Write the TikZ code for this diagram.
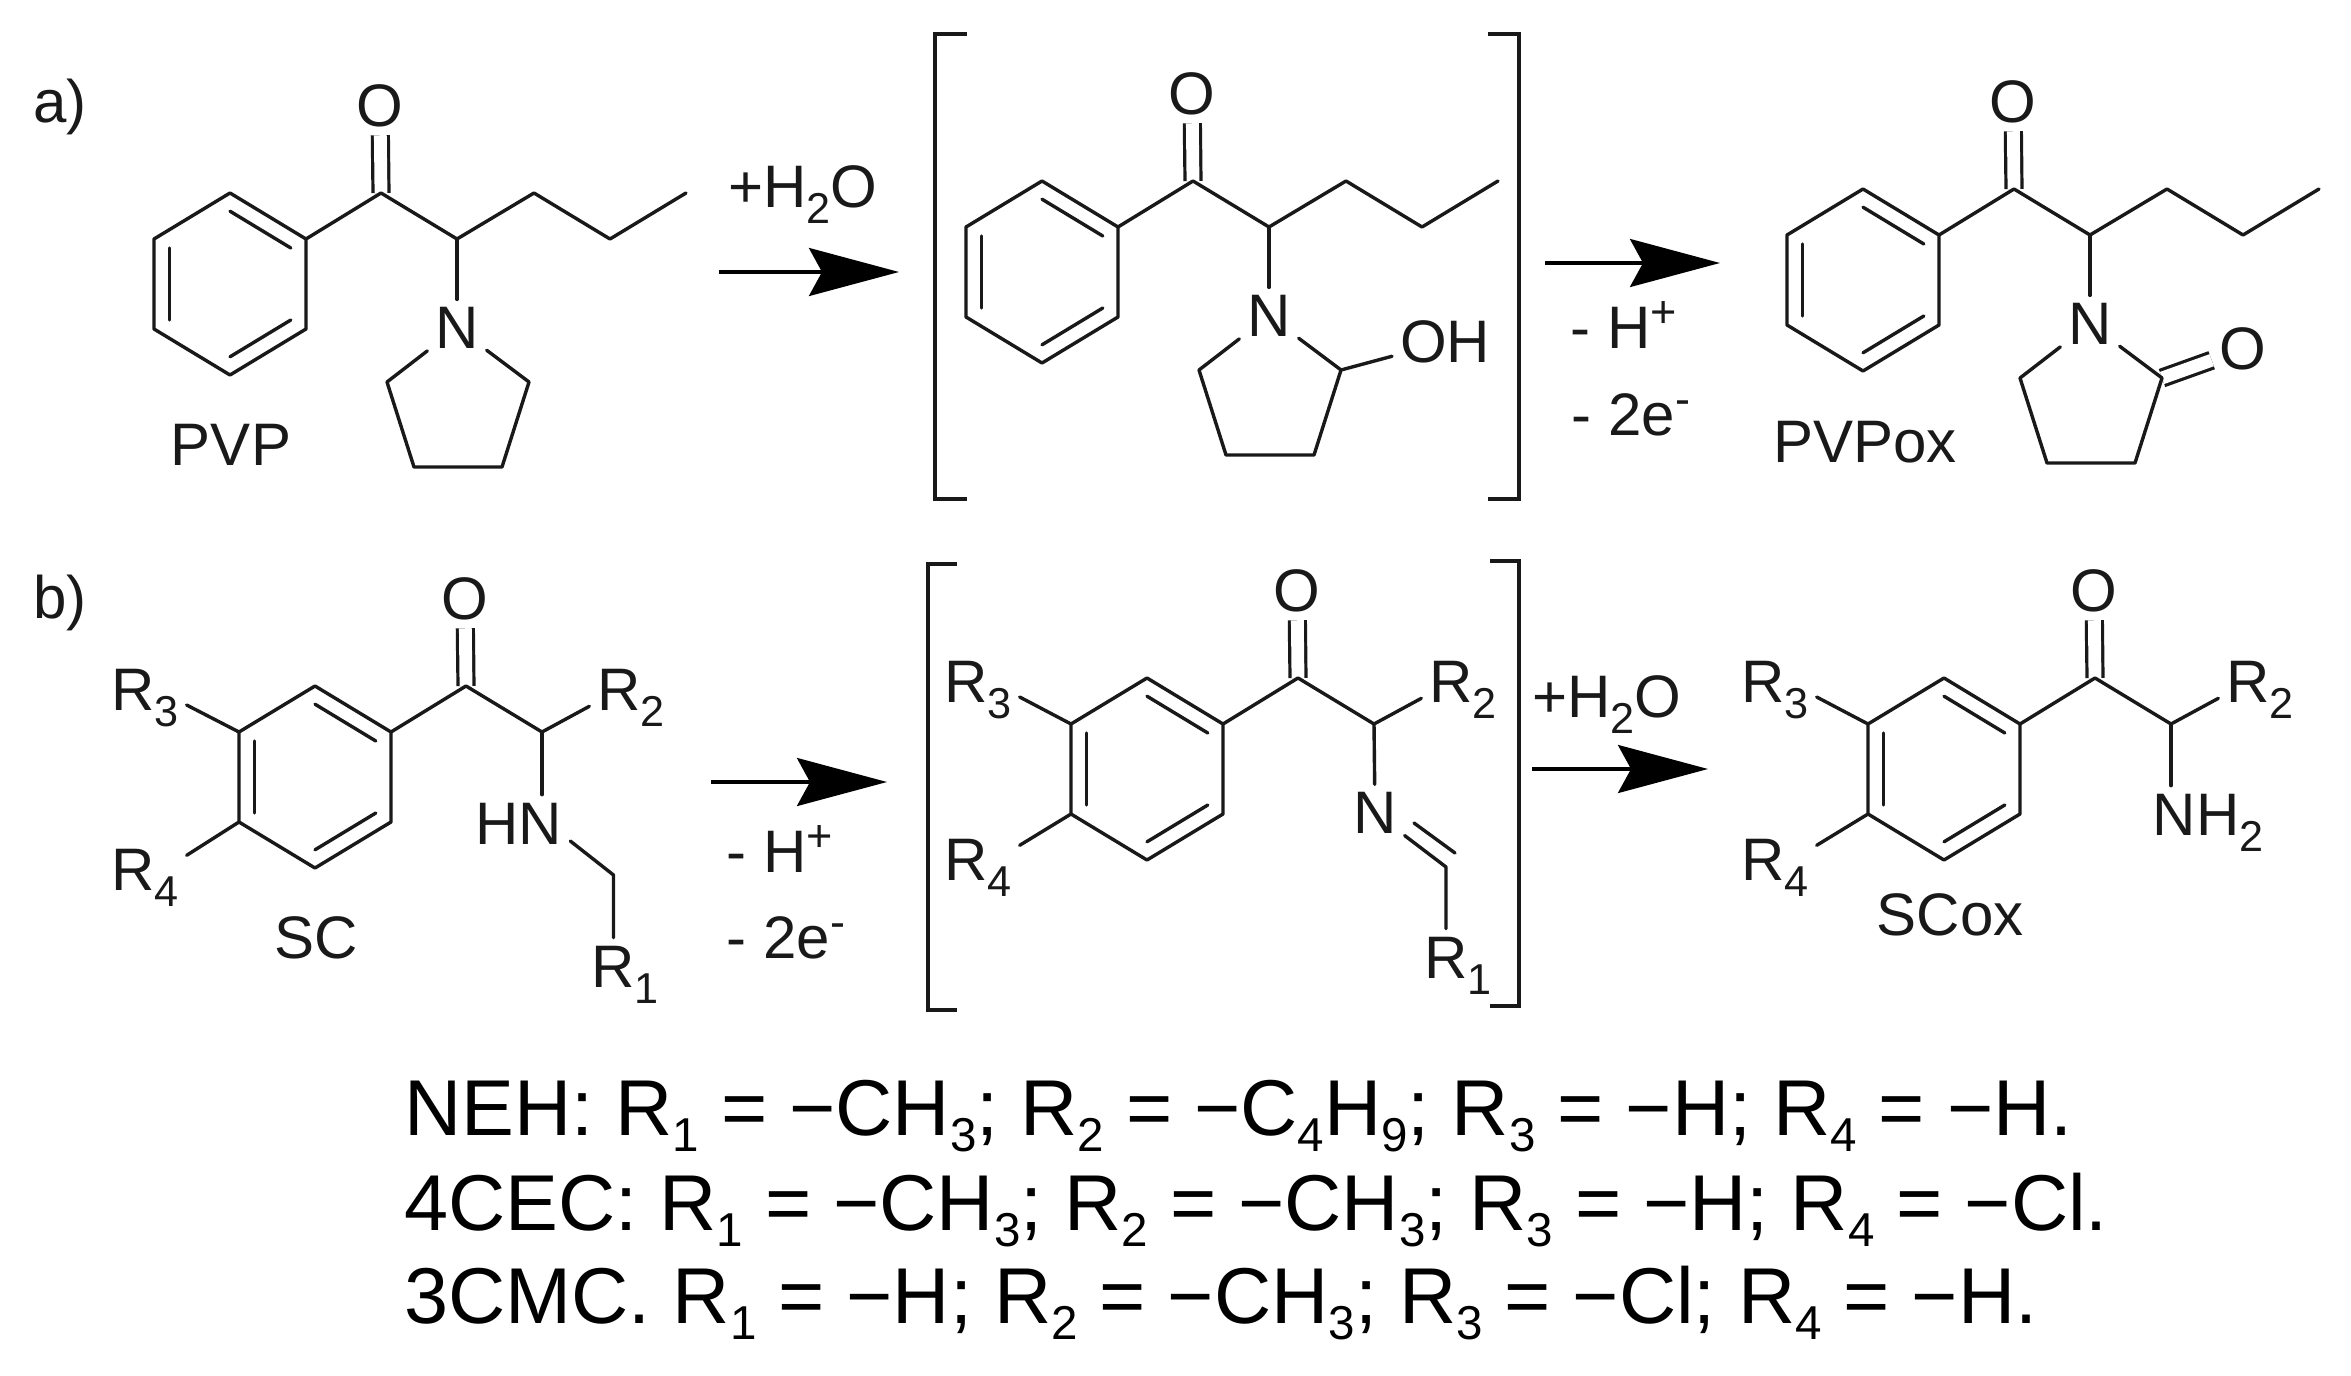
\documentclass[tikz,border=0pt]{standalone}
\usepackage{fontspec}
\setmainfont{Liberation Sans}
\usetikzlibrary{arrows.meta, calc}
\tikzstyle{bond} = [line width=1.7pt, line cap=round, line join=round, draw=black!90]
\tikzstyle{dbond} = [line width=1.6pt, draw=black!90, double=white, double distance=6.4pt]
\tikzstyle{atom} = [inner sep=4pt, outer sep=0pt, font=\fontsize{30}{36}\selectfont, text=black!90]
\tikzstyle{lbl} = [atom, anchor=base]
\tikzstyle{eqline} = [inner sep=0pt, anchor=base west, font=\fontsize{39.6}{48}\selectfont, text=black]
\tikzstyle{arrow} = [line width=1.7pt, -{Stealth[length=45pt, width=24pt, inset=6.5pt]}, draw=black]
\tikzstyle{bracket} = [line width=1.6pt, draw=black!90]
\newcommand{\lowtxt}[1]{\raisebox{-.21em}{\scalebox{.6}{#1}}}
\newcommand{\lowmol}[1]{\raisebox{-.27em}{\scalebox{.72}{#1}}}
\newcommand{\hightxt}[1]{\raisebox{.34em}{\scalebox{.75}{#1}}}
% ring with the carbonyl and the CH next to it
\newcommand{\ketoring}[3]{%
  \coordinate (#1m) at (#2,#3);
  \coordinate (#1a) at (#2,#3-91);
  \coordinate (#1b) at (#2+76,#3-45);
  \coordinate (#1c) at (#2+76,#3+45);
  \coordinate (#1d) at (#2,#3+91);
  \coordinate (#1e) at (#2-76,#3+45);
  \coordinate (#1f) at (#2-76,#3-45);
  \coordinate (#1C) at (#2+151,#3-91);
  \coordinate (#1H) at (#2+227,#3-45);
  \node (#1O) [atom] at (#2+150,#3-178) {O};
  \draw [dbond] (#1C) -- (#1O);
  \draw [bond] (#1a) -- (#1b) -- (#1c) -- (#1d) -- (#1e) -- (#1f) -- cycle;
  \draw [bond] ($(#1a)!0.2!(#1m)$) -- ($(#1b)!0.2!(#1m)$);
  \draw [bond] ($(#1c)!0.2!(#1m)$) -- ($(#1d)!0.2!(#1m)$);
  \draw [bond] ($(#1e)!0.2!(#1m)$) -- ($(#1f)!0.2!(#1m)$);
  \draw [bond] (#1b) -- (#1C) -- (#1H);
}
% propyl tail and the five ring on N
\newcommand{\pyrrolidine}[1]{%
  \coordinate (#1p) at ([shift={(304,-91)}]#1m);
  \coordinate (#1q) at ([shift={(380,-45)}]#1m);
  \coordinate (#1s) at ([shift={(456,-91)}]#1m);
  \coordinate (#1t) at ([shift={(157,98)}]#1m);
  \coordinate (#1u) at ([shift={(184,183)}]#1m);
  \coordinate (#1v) at ([shift={(272,183)}]#1m);
  \coordinate (#1w) at ([shift={(299,98)}]#1m);
  \node (#1N) [atom] at ([shift={(227,44)}]#1m) {N};
  \draw [bond] (#1H) -- (#1p) -- (#1q) -- (#1s);
  \draw [bond] (#1H) -- (#1N);
  \draw [bond] (#1N) -- (#1t) -- (#1u) -- (#1v) -- (#1w) -- (#1N);
}

\begin{document}
\begin{tikzpicture}[x=0.5pt, y=-0.5pt]
\useasboundingbox (0,0) rectangle (2351,1376);

%PVP
\ketoring{pvp}{230}{284}
\pyrrolidine{pvp}
%hydroxy intermediate
\ketoring{hyd}{1042}{272}
\pyrrolidine{hyd}
\node (hydOH) [atom] at (1445,342) {OH};
\draw [bond] (hydw) -- (hydOH);
%PVPox
\ketoring{pox}{1863}{280}
\coordinate (poxw) at ([shift={(299,98)}]poxm);
\node (poxO2) [atom] at (2243,349) {O};
\draw [dbond] (poxw) -- (poxO2);
\pyrrolidine{pox}

%SC
\ketoring{sc}{315}{777}
\node (scR1) [lbl] at (625,987) {R\lowmol{1}};
\node (scR2) [lbl] at (631,710) {R\lowmol{2}};
\node (scR3) [lbl] at (145,710) {R\lowmol{3}};
\node (scR4) [lbl] at (145,890) {R\lowmol{4}};
\node (scHN) [lbl] at (519,844) {HN};
\coordinate (scCH) at (613.5,875);
\draw [bond] (scH) -- (scR2.192);
\draw [bond] (scf) -- (scR3.-10);
\draw [bond] (sce) -- (scR4.28);
\draw [bond] (scH) -- (scH |- scHN.north);
\draw [bond] (scHN.-19) -- (scCH) -- (scCH |- scR1.north);
%imine intermediate
\ketoring{imi}{1147}{769}
\node (imiR1) [lbl] at (1458,978) {R\lowmol{1}};
\node (imiR2) [lbl] at (1463,702) {R\lowmol{2}};
\node (imiR3) [lbl] at (978,702) {R\lowmol{3}};
\node (imiR4) [lbl] at (978,880) {R\lowmol{4}};
\node (imiN) [atom] at (1375,813) {N};
\coordinate (imiCH) at (1446,867);
\coordinate (imiDa) at (1414,823);
\coordinate (imiDb) at (1455,853);
\draw [bond] (imiH) -- (imiR2.192);
\draw [bond] (imif) -- (imiR3.-10);
\draw [bond] (imie) -- (imiR4.28);
\draw [bond] (imiH) -- (imiN);
\draw [bond] (imiN) -- (imiCH) -- (imiCH |- imiR1.north);
\draw [bond] (imiDa) -- (imiDb);
%SCox
\ketoring{sox}{1944}{769}
\node (soxR2) [lbl] at (2260,702) {R\lowmol{2}};
\node (soxR3) [lbl] at (1775,702) {R\lowmol{3}};
\node (soxR4) [lbl] at (1775,880) {R\lowmol{4}};
\node (soxNH) [lbl] at (2208,835) {NH\lowmol{2}};
\draw [bond] (soxH) -- (soxR2.192);
\draw [bond] (soxf) -- (soxR3.-10);
\draw [bond] (soxe) -- (soxR4.28);
\draw [bond] (soxH) -- (soxH |- soxNH.north);

%Brackets
\draw [bracket] (967,34) -- (935,34) -- (935,499) -- (967,499);
\draw [bracket] (1488,34) -- (1519,34) -- (1519,499) -- (1488,499);
\draw [bracket] (957,564) -- (928,564) -- (928,1010) -- (957,1010);
\draw [bracket] (1490,561) -- (1519,561) -- (1519,1006) -- (1490,1006);

%arrows
\coordinate (arAs) at (719,272);
\coordinate (arAe) at (899,272);
\coordinate (arBs) at (1545,263);
\coordinate (arBe) at (1720,263);
\coordinate (arCs) at (711,782);
\coordinate (arCe) at (887,782);
\coordinate (arDs) at (1532,769);
\coordinate (arDe) at (1708,769);
\draw [arrow] (arAs) -- (arAe);
\draw [arrow] (arBs) -- (arBe);
\draw [arrow] (arCs) -- (arCe);
\draw [arrow] (arDs) -- (arDe);

%Labels
\node (parta) [lbl] at (60,122) {a)};
\node (partb) [lbl] at (60,618) {b)};
\node (pvpname) [lbl] at (231,465) {PVP};
\node (poxname) [lbl] at (1865,462) {PVPox};
\node (scname) [lbl] at (316,958) {SC};
\node (soxname) [lbl] at (1950,935) {SCox};
\node (waterA) [lbl] at (803,207) {+H\lowmol{2}O};
\node (waterB) [lbl] at (1607,717) {+H\lowmol{2}O};
\node (protA) [lbl] at (1624,348) {- H\hightxt{+}};
\node (elecA) [lbl] at (1631,435) {- 2e\hightxt{-}};
\node (protB) [lbl] at (780,872) {- H\hightxt{+}};
\node (elecB) [lbl] at (786,958) {- 2e\hightxt{-}};

%Compounds
\node (neh) [eqline] at (404,1135) {NEH: R\lowtxt{1} = −CH\lowtxt{3}; R\lowtxt{2} = −C\lowtxt{4}H\lowtxt{9}; R\lowtxt{3} = −H; R\lowtxt{4} = −H.};
\node (cec) [eqline] at (404,1230) {4CEC: R\lowtxt{1} = −CH\lowtxt{3}; R\lowtxt{2} = −CH\lowtxt{3}; R\lowtxt{3} = −H; R\lowtxt{4} = −Cl.};
\node (cmc) [eqline] at (404,1323) {3CMC. R\lowtxt{1} = −H; R\lowtxt{2} = −CH\lowtxt{3}; R\lowtxt{3} = −Cl; R\lowtxt{4} = −H.};

\end{tikzpicture}
\end{document}
